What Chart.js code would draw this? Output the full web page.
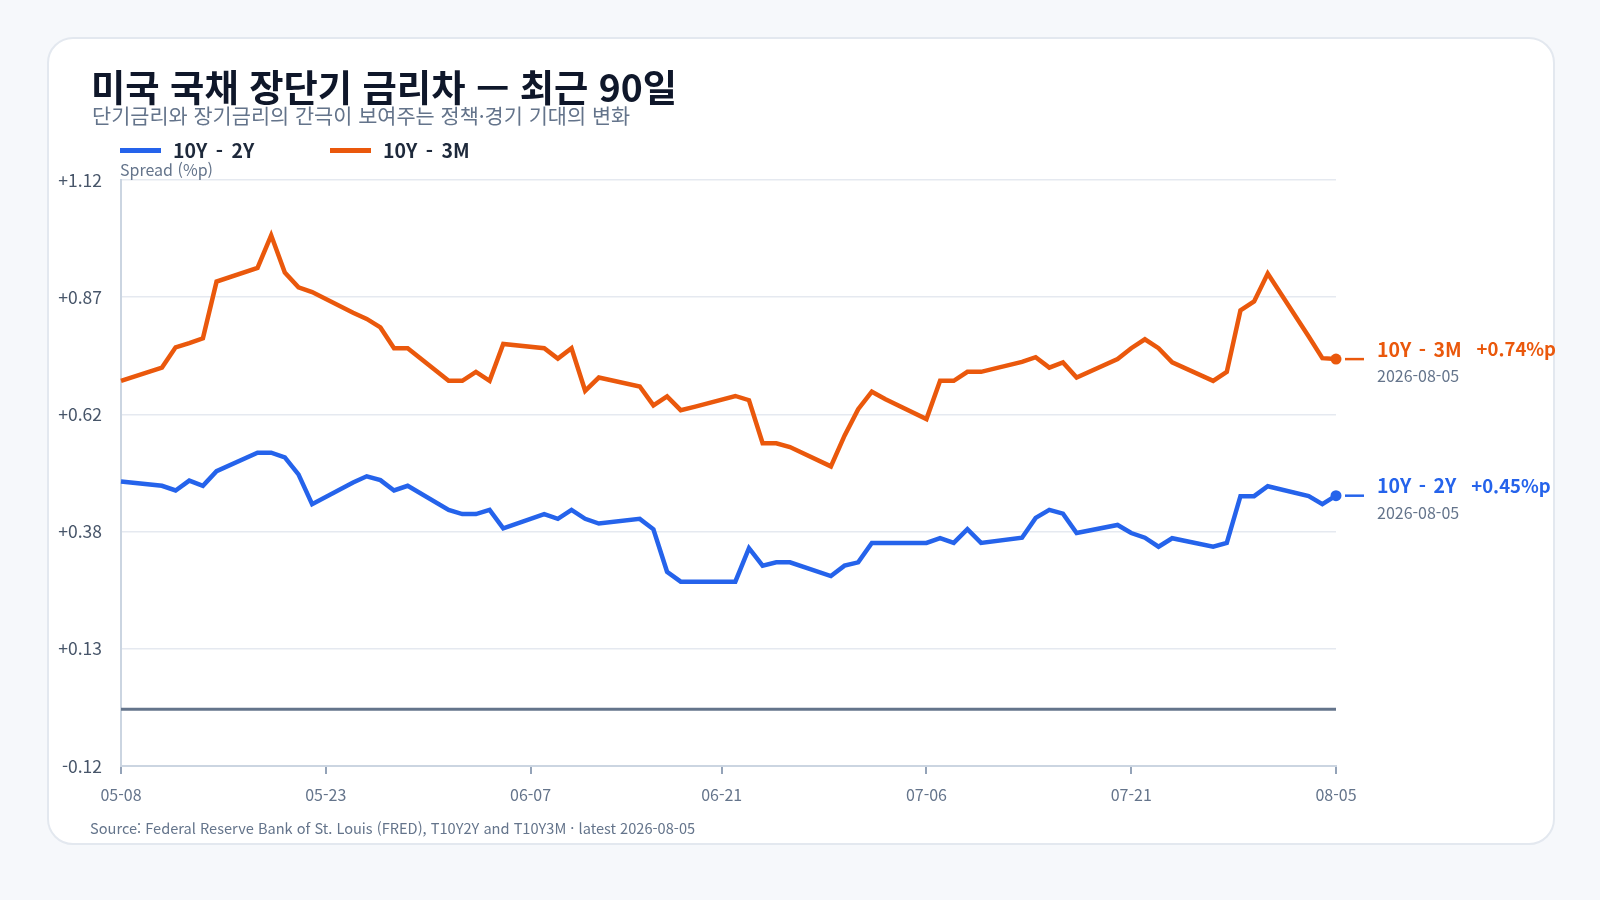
<!DOCTYPE html>
<html lang="ko">
<head>
<meta charset="utf-8">
<title>미국 국채 장단기 금리차</title>
<script src="https://cdn.jsdelivr.net/npm/chart.js@4.4.1/dist/chart.umd.min.js"></script>
<style>
  html, body { margin: 0; padding: 0; }
  body {
    width: 1600px; height: 900px; position: relative; overflow: hidden;
    background: #f6f8fb;
    font-family: "Noto Sans CJK KR", "Noto Sans", sans-serif;
  }
  .card {
    position: absolute; left: 47px; top: 37px; width: 1508px; height: 808px;
    box-sizing: border-box; background: #fff;
    border: 2px solid #e3e8ef; border-radius: 26px;
  }
  #chart { position: absolute; left: 0; top: 0; }
  .title {
    position: absolute; left: 91px; top: 64px; white-space: nowrap;
    font-size: 37.3px; font-weight: 700; color: #0f172a; line-height: 1.2;
  }
  .subtitle {
    position: absolute; left: 92px; top: 103px; white-space: nowrap;
    font-size: 20.8px; font-weight: 400; color: #64748b; line-height: 1.2;
  }
  .legend .item {
    position: absolute; top: 137px; display: flex; align-items: center; line-height: 26px;
    font-size: 19.5px; font-weight: 700; color: #1e293b; word-spacing: 3px; white-space: nowrap;
  }
  .legend .sw { width: 41px; height: 5px; margin-right: 12px; }
  .axis-title {
    position: absolute; left: 120px; top: 160px; font-size: 16px; color: #64748b; line-height: 1.2;
  }
  .source {
    position: absolute; left: 90px; top: 819px; font-size: 14.6px; color: #64748b; line-height: 1.2; white-space: nowrap;
  }
</style>
</head>
<body>
<div class="card"></div>
<canvas id="chart" width="1600" height="900"></canvas>
<div class="title">미국 국채 장단기 금리차 — 최근 90일</div>
<div class="subtitle">단기금리와 장기금리의 간극이 보여주는 정책·경기 기대의 변화</div>
<div class="legend" id="legend"></div>
<div class="axis-title">Spread (%p)</div>
<div class="source">Source: Federal Reserve Bank of St. Louis (FRED), T10Y2Y and T10Y3M · latest 2026-08-05</div>
<script>
// trading days (2026)
const dates = [
  '05-08',
  '05-11', '05-12', '05-13', '05-14', '05-15',
  '05-18', '05-19', '05-20', '05-21', '05-22',
  '05-25', '05-26', '05-27', '05-28', '05-29',
  '06-01', '06-02', '06-03', '06-04', '06-05',
  '06-08', '06-09', '06-10', '06-11', '06-12',
  '06-15', '06-16', '06-17', '06-18', '06-19',
  '06-22', '06-23', '06-24', '06-25', '06-26',
  '06-29', '06-30', '07-01', '07-02', '07-03',
  '07-06', '07-07', '07-08', '07-09', '07-10',
  '07-13', '07-14', '07-15', '07-16', '07-17',
  '07-20', '07-21', '07-22', '07-23', '07-24',
  '07-27', '07-28', '07-29', '07-30', '07-31',
  '08-03', '08-04', '08-05'
];

// 10Y - 2Y spread (%p)
const spread10y2y = [
  0.482,
  0.473, 0.463, 0.484, 0.473, 0.504,
  0.543, 0.543, 0.533, 0.497, 0.434,
  0.480, 0.493, 0.485, 0.463, 0.473,
  0.422, 0.413, 0.413, 0.422, 0.383,
  0.413, 0.403, 0.422, 0.403, 0.393,
  0.403, 0.381, 0.291, 0.270, 0.270,
  0.270, 0.341, 0.304, 0.311, 0.311,
  0.282, 0.304, 0.311, 0.352, 0.352,
  0.352, 0.362, 0.352, 0.381, 0.352,
  0.363, 0.405, 0.422, 0.414, 0.373,
  0.390, 0.373, 0.363, 0.344, 0.362,
  0.344, 0.352, 0.451, 0.451, 0.472,
  0.451, 0.434, 0.452
];

// 10Y - 3M spread (%p)
const spread10y3m = [
  0.695,
  0.723, 0.766, 0.775, 0.785, 0.905,
  0.934, 1.003, 0.924, 0.893, 0.883,
  0.839, 0.826, 0.808, 0.764, 0.764,
  0.695, 0.695, 0.714, 0.695, 0.773,
  0.764, 0.742, 0.764, 0.674, 0.702,
  0.683, 0.643, 0.662, 0.633, 0.640,
  0.663, 0.654, 0.563, 0.563, 0.555,
  0.514, 0.579, 0.635, 0.672, 0.656,
  0.614, 0.695, 0.695, 0.714, 0.714,
  0.735, 0.745, 0.723, 0.734, 0.702,
  0.741, 0.764, 0.783, 0.764, 0.734,
  0.695, 0.714, 0.844, 0.863, 0.922,
  0.789, 0.743, 0.741
];

const seriesNames = ['10Y - 2Y', '10Y - 3M'];
const seriesColors = ['#2563eb', '#ea580c'];
const xTickLabels = ['05-08', '05-23', '06-07', '06-21', '07-06', '07-21', '08-05'];
const yTickValues = [-0.12, 0.128, 0.376, 0.624, 0.872, 1.12];
const year = 2026;

// day offset from the first date
function dayOf(md) {
  const [m, d] = md.split('-').map(Number);
  const [m0, d0] = dates[0].split('-').map(Number);
  return (Date.UTC(year, m - 1, d) - Date.UTC(year, m0 - 1, d0)) / 864e5;
}
const xs = dates.map(dayOf);
const xTickDays = xTickLabels.map(dayOf);
const lastX = xs[xs.length - 1];

// legend
const legend = document.getElementById('legend');
const legendLeft = [120, 330];
seriesNames.forEach((name, i) => {
  const item = document.createElement('div');
  item.className = 'item';
  item.style.left = legendLeft[i] + 'px';
  item.innerHTML = '<span class="sw" style="background:' + seriesColors[i] + '"></span>' + name;
  legend.appendChild(item);
});

const fontFamily = '"Noto Sans CJK KR", "Noto Sans", sans-serif';
Chart.defaults.font.family = fontFamily;

// labels at the end of each line
const endLabels = {
  id: 'endLabels',
  afterDatasetsDraw(chart) {
    const ctx = chart.ctx;
    seriesNames.forEach((name, i) => {
      const meta = chart.getDatasetMeta(i);
      const pt = meta.data[meta.data.length - 1];
      const vals = i === 0 ? spread10y2y : spread10y3m;
      const v = vals[vals.length - 1];
      ctx.save();
      ctx.strokeStyle = seriesColors[i];
      ctx.lineWidth = 2.5;
      ctx.beginPath();
      ctx.moveTo(pt.x + 9, pt.y);
      ctx.lineTo(pt.x + 28, pt.y);
      ctx.stroke();
      ctx.fillStyle = seriesColors[i];
      ctx.textBaseline = 'middle';
      ctx.font = '700 19.5px ' + fontFamily;
      const tx = pt.x + 41;
      if ('wordSpacing' in ctx) ctx.wordSpacing = '2px';
      ctx.fillText(name, tx, pt.y - 10);
      const w = ctx.measureText(name).width;
      if ('wordSpacing' in ctx) ctx.wordSpacing = '0px';
      ctx.font = '700 18.5px ' + fontFamily;
      ctx.fillText((v >= 0 ? '+' : '') + v.toFixed(2) + '%p', tx + w + 15, pt.y - 10);
      ctx.font = '16px ' + fontFamily;
      ctx.fillStyle = '#64748b';
      ctx.fillText(year + '-' + dates[dates.length - 1], tx, pt.y + 17);
      ctx.restore();
    });
  }
};

new Chart(document.getElementById('chart'), {
  type: 'line',
  data: {
    datasets: [
      {
        label: seriesNames[0],
        data: xs.map((x, i) => ({ x: x, y: spread10y2y[i] })),
        borderColor: seriesColors[0],
        backgroundColor: seriesColors[0],
        borderWidth: 4.5,
        pointRadius: c => c.dataIndex === xs.length - 1 ? 5.5 : 0,
        pointBorderWidth: 0,
        tension: 0,
        clip: false
      },
      {
        label: seriesNames[1],
        data: xs.map((x, i) => ({ x: x, y: spread10y3m[i] })),
        borderColor: seriesColors[1],
        backgroundColor: seriesColors[1],
        borderWidth: 4.5,
        pointRadius: c => c.dataIndex === xs.length - 1 ? 5.5 : 0,
        pointBorderWidth: 0,
        tension: 0,
        clip: false
      },
      {
        // zero line
        label: 'zero',
        data: [{ x: 0, y: 0 }, { x: lastX, y: 0 }],
        borderColor: '#64748b',
        borderWidth: 3,
        pointRadius: 0,
        order: 5
      }
    ]
  },
  options: {
    responsive: false,
    animation: false,
    layout: { padding: { left: 0, right: 264, top: 180, bottom: 0 } },
    plugins: {
      legend: { display: false },
      tooltip: { enabled: false }
    },
    scales: {
      x: {
        type: 'linear',
        min: 0,
        max: lastX,
        afterFit: s => { s.height = 134; },
        afterBuildTicks: s => { s.ticks = xTickDays.map(v => ({ value: v })); },
        grid: { drawOnChartArea: false, drawTicks: true, tickLength: 8, color: '#94a3b8', lineWidth: 2 },
        border: { color: '#cbd5e1', width: 2 },
        ticks: {
          padding: 11,
          color: '#64748b',
          font: { size: 16 },
          maxRotation: 0,
          callback: v => xTickLabels[xTickDays.indexOf(v)]
        }
      },
      y: {
        min: yTickValues[0],
        max: yTickValues[yTickValues.length - 1],
        afterFit: s => { s.width = 121; },
        afterBuildTicks: s => { s.ticks = yTickValues.map(v => ({ value: v })); },
        grid: { drawTicks: false, color: '#e5e9f0', lineWidth: 1.5 },
        border: { color: '#cbd5e1', width: 2 },
        ticks: {
          padding: 19,
          color: '#475569',
          font: { size: 17.5 },
          callback: v => (v > 0 ? '+' : '') + v.toFixed(2)
        }
      }
    }
  },
  plugins: [endLabels]
});
</script>
</body>
</html>
